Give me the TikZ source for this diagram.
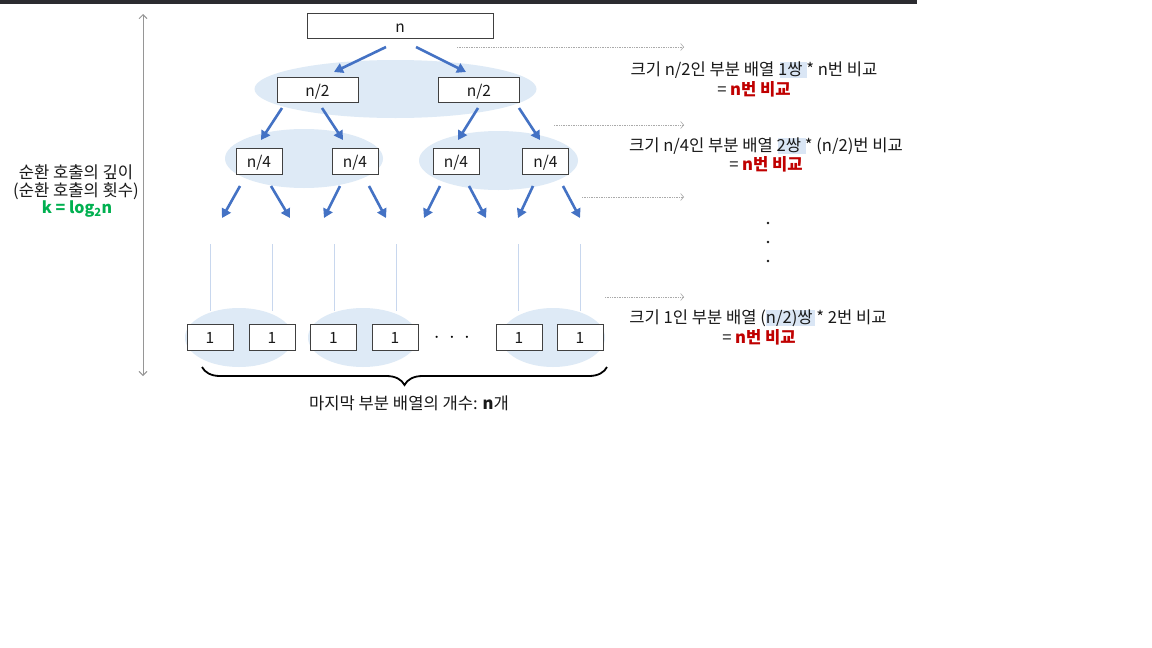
\documentclass[tikz,border=0pt]{standalone}
\usepackage{fontspec}
\setmainfont{Noto Sans CJK KR}
\usetikzlibrary{arrows.meta,decorations.pathreplacing}
\definecolor{topbar}{RGB}{43,43,48}
\definecolor{ellfill}{RGB}{222,234,246}
\definecolor{boxline}{RGB}{64,64,64}
\definecolor{arrblue}{RGB}{68,114,196}
\definecolor{thinblue}{RGB}{200,215,238}
\definecolor{axisgray}{RGB}{150,150,150}
\definecolor{dotgray}{RGB}{170,170,170}
\definecolor{redtxt}{RGB}{192,0,0}
\definecolor{greentxt}{RGB}{0,176,80}
\definecolor{hilite}{RGB}{218,230,245}
\definecolor{txt}{RGB}{25,25,25}
\begin{document}
\begin{tikzpicture}[x=1pt,y=-1pt,
  every node/.style={font=\fontsize{16.6}{19}\selectfont, text=txt, inner sep=0pt},
  box/.style={draw=boxline, fill=white, line width=0.9pt, minimum height=25pt,
    font=\fontsize{15.5}{19}\selectfont, text height=13.5pt, text depth=0pt},
  wide/.style={box, minimum width=186pt},
  half/.style={box, minimum width=81pt},
  quarter/.style={box, minimum width=46pt, minimum height=26pt},
  unit/.style={box, minimum width=46pt, minimum height=26pt},
  blob/.style={fill=ellfill},
  tree/.style={draw=arrblue, line width=2.6pt, -{Triangle[length=9pt,width=10pt]}},
  guide/.style={draw=dotgray, line width=0.7pt, densely dotted, -{Straight Barb[length=3pt,width=7pt,line width=0.6pt]}},
  stem/.style={draw=thinblue, line width=0.8pt},
  depth/.style={draw=axisgray, line width=0.9pt, {Straight Barb[length=4pt,width=8pt]}-{Straight Barb[length=4pt,width=8pt]}}
]
\useasboundingbox (0,0) rectangle (1152,648);
\fill[white] (0,0) rectangle (1152,648);
\fill[topbar] (0,0) rectangle (917,4);

% ellipses
\fill[blob] (395.5,89) ellipse [x radius=141, y radius=29];
\fill[blob] (304,158.5) ellipse [x radius=79, y radius=29.5];
\fill[blob] (498.5,160.5) ellipse [x radius=79.5, y radius=29.5];
\fill[blob] (239,337.5) ellipse [x radius=54, y radius=29.5];
\fill[blob] (363,337.5) ellipse [x radius=55, y radius=29.5];
\fill[blob] (553,337.5) ellipse [x radius=52, y radius=29.5];

% stems
\draw[stem] (210,244) -- (210,311);
\draw[stem] (272,244) -- (272,311);
\draw[stem] (334,244) -- (334,311);
\draw[stem] (396,244) -- (396,311);
\draw[stem] (518,244) -- (518,311);
\draw[stem] (580,244) -- (580,311);

% boxes
\node[wide] (root) at (400,25.5) {n};
\node[half] (hl) at (317.5,89.5) {n/2};
\node[half] (hr) at (479,89.5) {n/2};
\node[quarter] (q1) at (259,161) {n/4};
\node[quarter] (q2) at (355,161) {n/4};
\node[quarter] (q3) at (456,161) {n/4};
\node[quarter] (q4) at (545.5,161) {n/4};
\node[unit] (u1) at (210,337) {1};
\node[unit] (u2) at (272,337) {1};
\node[unit] (u3) at (333.5,337) {1};
\node[unit] (u4) at (395,337) {1};
\node[font=\fontsize{20}{20}\selectfont, text=black] (dots) at (452,338) {$\cdot$\hspace{9.4pt}$\cdot$\hspace{9.4pt}$\cdot$};
\node[unit] (u5) at (519,337) {1};
\node[unit] (u6) at (580,337) {1};

% tree arrows
\coordinate (a1s) at (386,47);  \coordinate (a1e) at (334,72);
\coordinate (a2s) at (416,47);  \coordinate (a2e) at (466,72);
\draw[tree] (a1s) -- (a1e);
\draw[tree] (a2s) -- (a2e);
\coordinate (b1s) at (282,108); \coordinate (b1e) at (261,140);
\coordinate (b2s) at (322,108); \coordinate (b2e) at (343,140);
\coordinate (b3s) at (478,108); \coordinate (b3e) at (458,140);
\coordinate (b4s) at (519,108); \coordinate (b4e) at (540,140);
\draw[tree] (b1s) -- (b1e);
\draw[tree] (b2s) -- (b2e);
\draw[tree] (b3s) -- (b3e);
\draw[tree] (b4s) -- (b4e);
\coordinate (c1s) at (240,186); \coordinate (c1e) at (222,218);
\coordinate (c2s) at (271,186); \coordinate (c2e) at (290,218);
\coordinate (c3s) at (340,186); \coordinate (c3e) at (324,218);
\coordinate (c4s) at (369,186); \coordinate (c4e) at (386,218);
\coordinate (c5s) at (440,186); \coordinate (c5e) at (424,218);
\coordinate (c6s) at (469,186); \coordinate (c6e) at (486,218);
\coordinate (c7s) at (533,186); \coordinate (c7e) at (518,218);
\coordinate (c8s) at (563,186); \coordinate (c8e) at (580,218);
\foreach \i in {1,...,8} { \draw[tree] (c\i s) -- (c\i e); }

% depth axis
\coordinate (dtop) at (143,14);
\coordinate (dbot) at (143,376);
\draw[depth] (dtop) -- (dbot);
\node (d1) at (76,172) {순환 호출의 깊이};
\node (d2) at (76,191) {(순환 호출의 횟수)};
\node[text=greentxt, font=\fontsize{16}{19}\selectfont\bfseries] (d3) at (77,209) {k = log\textsubscript{2}n};

% brace
\coordinate (bl) at (202,367);
\coordinate (br) at (607,367);
\draw[line width=1.8pt, decorate, decoration={brace, mirror, amplitude=18pt}] (bl) -- (br);
\node (cnt) at (409,403) {마지막 부분 배열의 개수: \textbf{n}개};

% guide arrows
\coordinate (g1s) at (457,47);  \coordinate (g1e) at (684,47);
\coordinate (g2s) at (554,125); \coordinate (g2e) at (684,125);
\coordinate (g3s) at (582,197); \coordinate (g3e) at (684,197);
\coordinate (g4s) at (605,297); \coordinate (g4e) at (684,297);
\draw[guide] (g1s) -- (g1e);
\draw[guide] (g2s) -- (g2e);
\draw[guide] (g3s) -- (g3e);
\draw[guide] (g4s) -- (g4e);

% highlights
\fill[hilite] (780,62) rectangle (807,78);
\fill[hilite] (778,138) rectangle (806,154);
\fill[hilite] (766,310) rectangle (815,326);

% right labels
\node (r1) at (754,70) {크기 n/2인 부분 배열 1쌍 * n번 비교};
\node (r1b) at (754,89) {= \textcolor{redtxt}{\bfseries n번 비교}};
\node (r2) at (766,146) {크기 n/4인 부분 배열 2쌍 * (n/2)번 비교};
\node (r2b) at (766,164) {= \textcolor{redtxt}{\bfseries n번 비교}};
\fill[txt] (768,223) circle (1.3);
\fill[txt] (768,242) circle (1.3);
\fill[txt] (768,261) circle (1.3);
\node (r3) at (758,318) {크기 1인 부분 배열 (n/2)쌍 * 2번 비교};
\node (r3b) at (759,337) {= \textcolor{redtxt}{\bfseries n번 비교}};
\end{tikzpicture}
\end{document}
